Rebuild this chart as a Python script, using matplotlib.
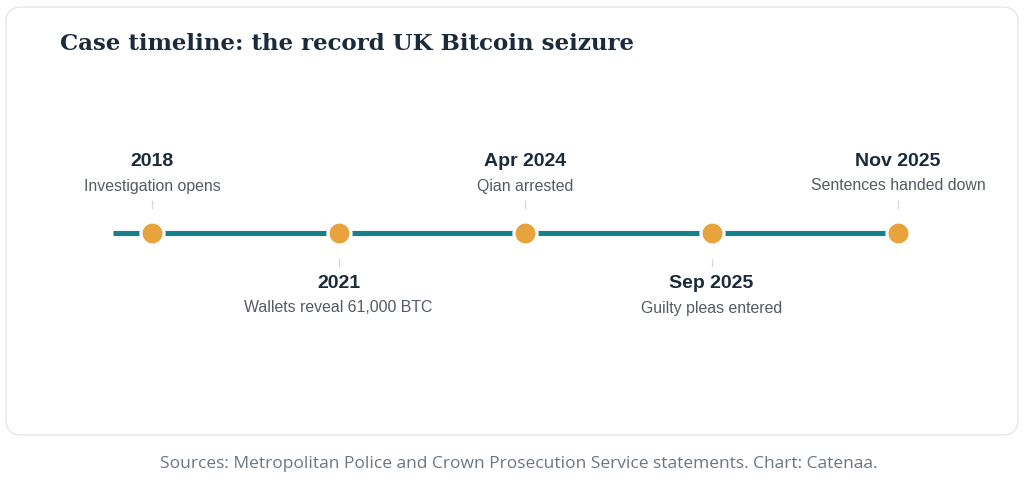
import matplotlib
matplotlib.use('Agg')
import matplotlib.pyplot as plt
from matplotlib.patches import FancyBboxPatch

# ── Data ────────────────────────────────────────────────────────────────
dates = ['2018', '2021', 'Apr 2024', 'Sep 2025', 'Nov 2025']
events = ['Investigation opens', 'Wallets reveal 61,000 BTC', 'Qian arrested',
          'Guilty pleas entered', 'Sentences handed down']
above = [True, False, True, False, True]

TITLE = 'Case timeline: the record UK Bitcoin seizure'
FOOTER = 'Sources: Metropolitan Police and Crown Prosecution Service statements. Chart: Catenaa.'

TEAL = '#18808a'
ORANGE = '#e8a33d'
NAVY = '#1c2b3b'
GREY = '#555b62'

W, H = 1024, 484
fig = plt.figure(figsize=(W / 100, H / 100), dpi=100)
fig.patch.set_facecolor('white')

# axis in pixel units for y, event index for x
ax = fig.add_axes([0, 0, 1, 1])
x0, step = 152, 186.5
ax.set_xlim(-x0 / step, (W - x0) / step)
ax.set_ylim(H, 0)
ax.axis('off')

# card
card = FancyBboxPatch((6 / W, (H - 435) / H), 1012 / W, 428 / H,
                      boxstyle='round,pad=0,rounding_size=0.015',
                      transform=fig.transFigure, facecolor='white',
                      edgecolor='#e6e8ea', linewidth=1.0, zorder=0,
                      mutation_aspect=W / H, clip_on=False)
ax.add_patch(card)

fig.text(60 / W, 1 - 44 / H, TITLE, fontsize=16.5, fontweight='bold',
         family='DejaVu Serif', color=NAVY, va='center', ha='left')

ly = 233
idx = list(range(len(dates)))
ax.plot([-39 / step, idx[-1]], [ly, ly], color=TEAL, lw=3.7,
        solid_capstyle='butt', zorder=2)
ax.plot(idx, [ly] * len(idx), 'o', ms=16.6, mfc=ORANGE, mec='white',
        mew=2.3, zorder=3)

for i, (d, e, up) in enumerate(zip(dates, events, above)):
    if up:
        ax.plot([i, i], [201, 208], color='#d3d6d9', lw=0.9, zorder=1)
        yd, ye = 161, 186
    else:
        ax.plot([i, i], [259, 266], color='#d3d6d9', lw=0.9, zorder=1)
        yd, ye = 284, 308
    ax.text(i, yd, d, ha='center', va='center', fontsize=14,
            fontweight='bold', family='Liberation Sans', color=NAVY)
    ax.text(i, ye, e, ha='center', va='center', fontsize=11.4,
            family='Liberation Sans', color=GREY)

fig.text(519 / W, 1 - 464 / H, FOOTER, ha='center', va='center',
         fontsize=12.5, family='Open Sans', color='#6b7682')

fig.savefig('out.png', dpi=100, facecolor='white')
